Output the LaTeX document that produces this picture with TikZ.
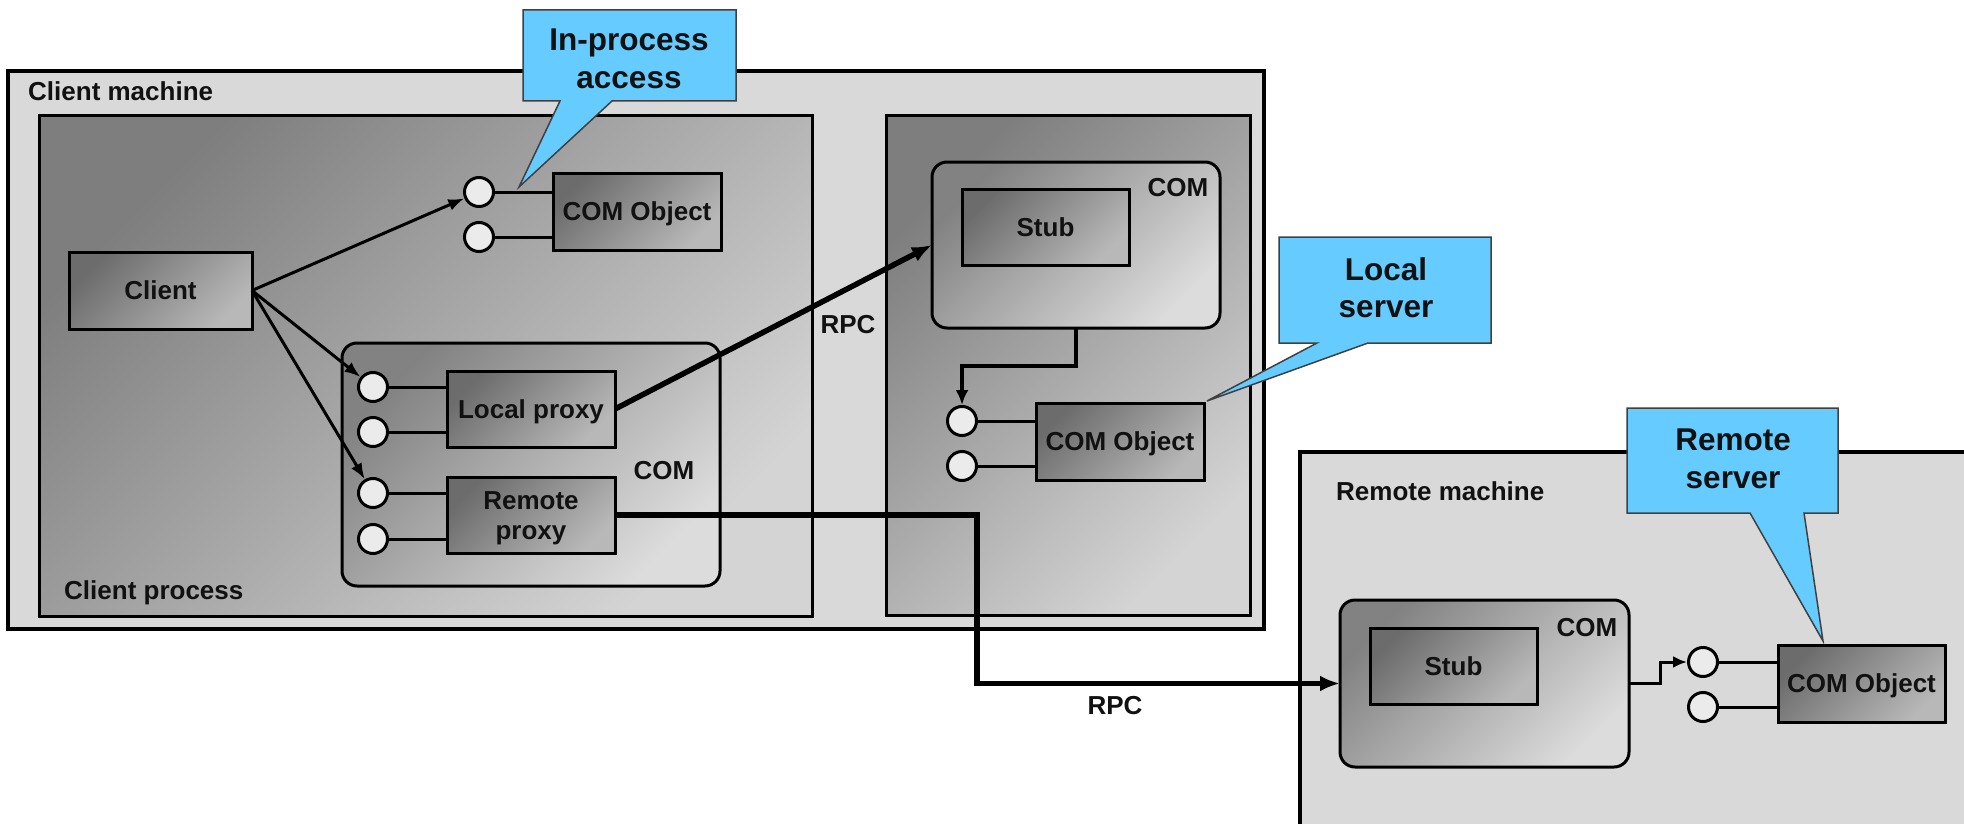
\documentclass[tikz,border=0pt]{standalone}
\usepackage{fontspec}
\setmainfont{Liberation Sans}
\usetikzlibrary{arrows.meta,calc}
\definecolor{machinegray}{HTML}{D9D9D9}
\definecolor{procdark}{HTML}{7E7E7E}
\definecolor{proclight}{HTML}{D4D4D4}
\definecolor{comdark}{HTML}{828282}
\definecolor{comlight}{HTML}{DCDCDC}
\definecolor{objdark}{HTML}{6C6C6C}
\definecolor{objlight}{HTML}{B8B8B8}
\definecolor{portgray}{HTML}{EBEBEB}
\definecolor{calloutblue}{HTML}{66CCFF}
\definecolor{calloutline}{HTML}{404040}
\definecolor{inkc}{HTML}{111111}
\begin{document}
\begin{tikzpicture}[x=1pt,y=-1pt,
  lbl/.style={font=\fontsize{26}{30}\selectfont\bfseries, inner sep=0pt, text=inkc},
  capc/.style={text height=18.6pt, text depth=0pt},
  machinebox/.style={draw=black, line width=3.5pt, fill=machinegray, anchor=north west, inner sep=0pt, outer sep=0pt},
  procbox/.style={draw=black, line width=3pt, top color=procdark, bottom color=proclight, shading angle=45, anchor=north west, inner sep=0pt, outer sep=0pt},
  combox/.style={draw=black, line width=3pt, rounded corners=15pt, top color=comdark, bottom color=comlight, shading angle=45, anchor=north west, inner sep=0pt, outer sep=0pt},
  objbox/.style={draw=black, line width=3pt, top color=objdark, bottom color=objlight, shading angle=45, anchor=north west, inner sep=0pt, outer sep=0pt, minimum width=168pt, minimum height=77pt, lbl, capc},
  port/.style={circle, draw=black, line width=3pt, fill=portgray, minimum size=29pt, inner sep=0pt},
  conn/.style={line width=3pt, -{Latex[length=16pt,width=12pt]}},
  stem/.style={line width=3pt},
  rpcline/.style={line width=5.5pt, -{Latex[length=20pt,width=16pt]}},
  calloutshape/.style={draw=calloutline, line width=1.5pt, fill=calloutblue, line join=miter},
  ctext/.style={font=\fontsize{31.5}{37.5}\selectfont\bfseries, align=center, inner sep=0pt, anchor=north, text=inkc},
]
\fill[white] (0,0) rectangle (1964,824);
\clip (0,0) rectangle (1964,824);

% machines and processes
\node[machinebox, minimum width=1256pt, minimum height=558pt] (clientmachine) at (8,71) {};
\node[lbl, anchor=base west] (cmlabel) at (28,101) {Client machine};
\node[procbox, minimum width=773pt, minimum height=500pt] (clientproc) at (39,116) {};
\node[lbl, anchor=base west] (cplabel) at (64,599) {Client process};
\node[procbox, minimum width=364pt, minimum height=499pt] (serverproc) at (886,116) {};
\node[machinebox, minimum width=700pt, minimum height=450pt] (remotemachine) at (1300,452) {};
\node[lbl, anchor=base west] (rmlabel) at (1336,500) {Remote machine};

% COM containers
\node[combox, minimum width=378pt, minimum height=243pt] (proxycom) at (342,343) {};
\node[lbl, capc] (proxycomlabel) at (664,470) {COM};
\node[combox, minimum width=288pt, minimum height=166pt] (stubcom) at (932,162) {};
\node[lbl, capc] (stubcomlabel) at (1178,187) {COM};
\node[combox, minimum width=289pt, minimum height=167pt] (rstubcom) at (1340,600) {};
\node[lbl, capc] (rstubcomlabel) at (1587,627) {COM};

% boxes
\node[objbox, minimum width=183pt] (client) at (69,252) {Client};
\node[objbox] (obj1) at (553,173) {COM Object};
\node[objbox, minimum height=76pt] (lproxy) at (447,371) {Local proxy};
\node[objbox, minimum height=76pt] (rproxy) at (447,477) {};
\node[lbl, anchor=north, align=center] (rproxytext) at (531,491) {Remote\\proxy};
\node[objbox, minimum width=167pt, minimum height=76pt] (stub) at (962,189) {Stub};
\node[objbox] (obj2) at (1036,403) {COM Object};
\node[objbox, minimum width=167pt, minimum height=76pt] (stub2) at (1370,628) {Stub};
\node[objbox, minimum width=167pt] (obj3) at (1778,645) {COM Object};

% ports
\node[port] (p1) at (479,192) {};
\node[port] (p2) at (479,237) {};
\node[port] (p3) at (373,387) {};
\node[port] (p4) at (373,432) {};
\node[port] (p5) at (373,493) {};
\node[port] (p6) at (373,539) {};
\node[port] (p7) at (962,421) {};
\node[port] (p8) at (962,466) {};
\node[port] (p9) at (1703,662) {};
\node[port] (p10) at (1703,707) {};

% stems
\draw[stem] (p1.east) -- (p1.east -| obj1.west);
\draw[stem] (p2.east) -- (p2.east -| obj1.west);
\draw[stem] (p3.east) -- (p3.east -| lproxy.west);
\draw[stem] (p4.east) -- (p4.east -| lproxy.west);
\draw[stem] (p5.east) -- (p5.east -| rproxy.west);
\draw[stem] (p6.east) -- (p6.east -| rproxy.west);
\draw[stem] (p7.east) -- (p7.east -| obj2.west);
\draw[stem] (p8.east) -- (p8.east -| obj2.west);
\draw[stem] (p9.east) -- (p9.east -| obj3.west);
\draw[stem] (p10.east) -- (p10.east -| obj3.west);

% connectors
\draw[conn] (client.east) -- (p1);
\draw[conn] (client.east) -- (p3);
\draw[conn] (client.east) -- (p5);
\draw[rpcline] (lproxy.east) -- (stubcom.west);
\draw[rpcline] (rproxy.east) -- ++(362,0) |- (rstubcom.west);
\draw[line width=3.5pt, -{Latex[length=15pt,width=13pt]}] (stubcom.south) -- ++(0,38) -| (p7.north);
\draw[line width=3pt, -{Latex[length=14pt,width=12pt]}] (rstubcom.east) -- ++(31,0) |- (p9.west);

\node[lbl, capc] (rpc1) at (848,324) {RPC};
\node[lbl, capc] (rpc2) at (1115,705) {RPC};

% callouts
\draw[calloutshape] (523,10) -- (736,10) -- (736,101) -- (612,101) -- (519,187) -- (560,101) -- (523,101) -- cycle;
\node[ctext] (inproc) at (629,29) {In-process\\access};
\draw[calloutshape] (1279,237) -- (1491,237) -- (1491,343) -- (1368,343) -- (1207,401) -- (1317,343) -- (1279,343) -- cycle;
\node[ctext] (localsrv) at (1386,257) {Local\\server};
\draw[calloutshape] (1627,408) -- (1838,408) -- (1838,513) -- (1804,513) -- (1823,641) -- (1750,513) -- (1627,513) -- cycle;
\node[ctext] (remotesrv) at (1733,429) {Remote\\server};
\end{tikzpicture}
\end{document}
